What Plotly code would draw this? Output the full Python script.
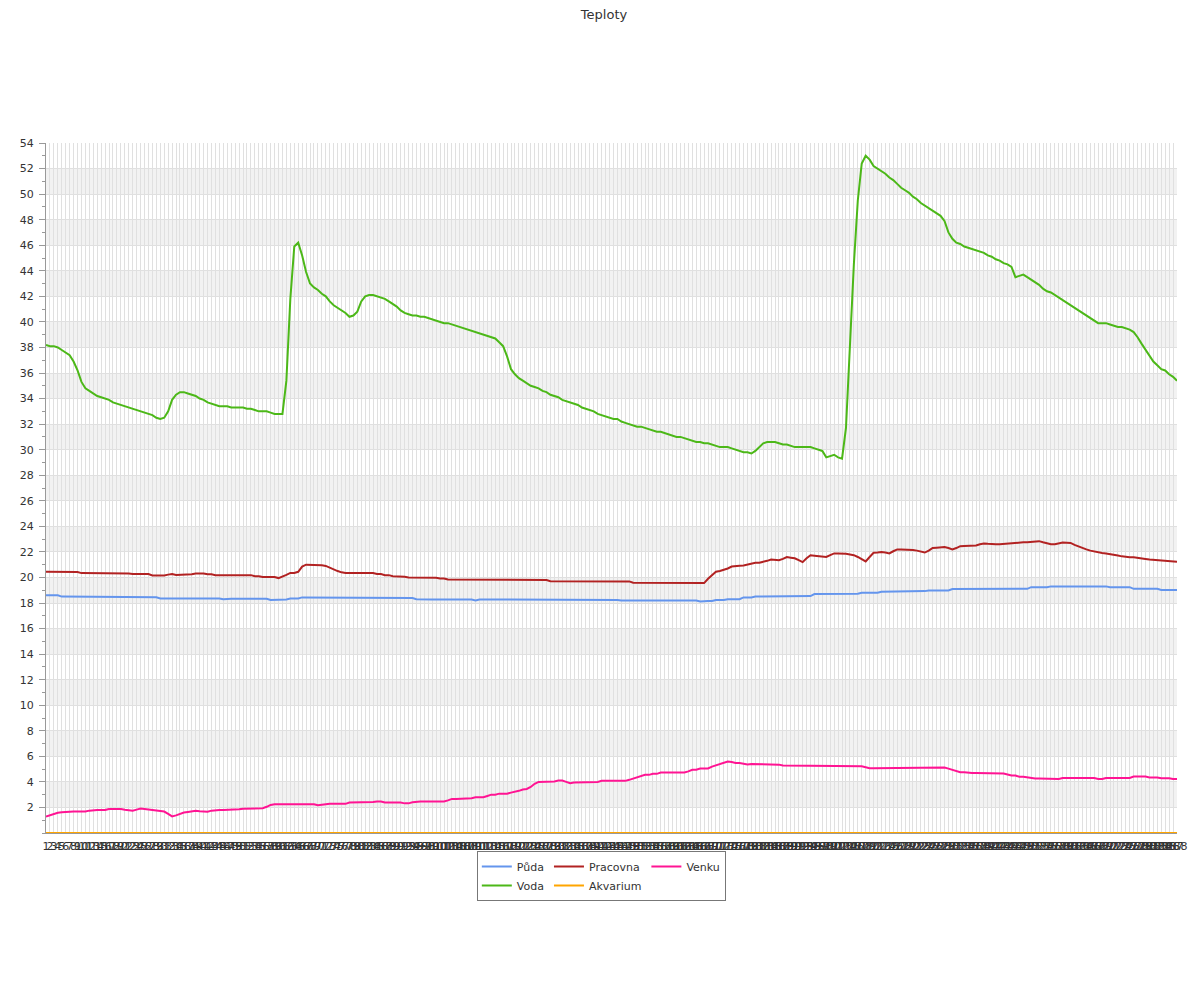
import plotly.graph_objects as go

labels = [str(i) for i in range(1, 289)]

puda = [
    18.6, 18.6, 18.6, 18.6, 18.5, 18.5, 18.5, 18.5, 18.5, 18.5,
    18.5, 18.5, 18.5, 18.45, 18.45, 18.45, 18.45, 18.45, 18.45, 18.45,
    18.45, 18.45, 18.45, 18.45, 18.45, 18.45, 18.45, 18.45, 18.45, 18.36,
    18.36, 18.36, 18.36, 18.36, 18.36, 18.36, 18.36, 18.36, 18.36, 18.36,
    18.36, 18.36, 18.36, 18.36, 18.36, 18.3, 18.33, 18.33, 18.33, 18.33,
    18.33, 18.33, 18.33, 18.33, 18.33, 18.33, 18.33, 18.23, 18.23, 18.23,
    18.28, 18.28, 18.35, 18.35, 18.35, 18.44, 18.44, 18.44, 18.44, 18.44,
    18.44, 18.44, 18.44, 18.44, 18.44, 18.44, 18.44, 18.44, 18.44, 18.44,
    18.44, 18.44, 18.44, 18.39, 18.39, 18.39, 18.39, 18.39, 18.39, 18.39,
    18.39, 18.39, 18.39, 18.39, 18.3, 18.28, 18.28, 18.28, 18.28, 18.28,
    18.28, 18.28, 18.28, 18.28, 18.28, 18.28, 18.28, 18.28, 18.28, 18.2,
    18.28, 18.28, 18.28, 18.28, 18.28, 18.28, 18.28, 18.28, 18.23, 18.23,
    18.23, 18.23, 18.28, 18.28, 18.28, 18.28, 18.28, 18.28, 18.28, 18.28,
    18.28, 18.28, 18.28, 18.28, 18.28, 18.28, 18.28, 18.28, 18.28, 18.28,
    18.28, 18.23, 18.23, 18.23, 18.23, 18.23, 18.2, 18.2, 18.2, 18.2,
    18.2, 18.2, 18.2, 18.2, 18.2, 18.2, 18.2, 18.2, 18.2, 18.2,
    18.2, 18.2, 18.2, 18.2, 18.2, 18.2, 18.12, 18.15, 18.15, 18.15,
    18.23, 18.23, 18.23, 18.3, 18.3, 18.3, 18.3, 18.44, 18.44, 18.44,
    18.5, 18.5, 18.5, 18.5, 18.5, 18.54, 18.54, 18.54, 18.54, 18.54,
    18.54, 18.54, 18.54, 18.54, 18.54, 18.7, 18.7, 18.7, 18.7, 18.7,
    18.72, 18.72, 18.72, 18.72, 18.72, 18.72, 18.72, 18.8, 18.8, 18.8,
    18.8, 18.8, 18.88, 18.88, 18.88, 18.88, 18.88, 18.88, 18.93, 18.93,
    18.93, 18.93, 18.93, 18.93, 18.98, 18.98, 18.98, 18.98, 18.98, 18.98,
    19.09, 19.09, 19.09, 19.09, 19.09, 19.09, 19.09, 19.09, 19.09, 19.09,
    19.11, 19.11, 19.11, 19.11, 19.11, 19.11, 19.11, 19.11, 19.11, 19.11,
    19.24, 19.24, 19.24, 19.24, 19.24, 19.3, 19.3, 19.3, 19.3, 19.3,
    19.3, 19.3, 19.3, 19.3, 19.3, 19.3, 19.3, 19.3, 19.3, 19.3,
    19.24, 19.24, 19.24, 19.24, 19.24, 19.24, 19.11, 19.11, 19.11, 19.11,
    19.11, 19.11, 19.11, 19.02, 19.02, 19.02, 19.02, 19.02,
]

pracovna = [
    20.45, 20.45, 20.45, 20.45, 20.45, 20.42, 20.42, 20.42, 20.42, 20.34,
    20.34, 20.34, 20.34, 20.34, 20.34, 20.34, 20.3, 20.3, 20.3, 20.3,
    20.3, 20.3, 20.27, 20.27, 20.27, 20.27, 20.27, 20.16, 20.16, 20.16,
    20.16, 20.22, 20.26, 20.2, 20.2, 20.2, 20.25, 20.25, 20.31, 20.31,
    20.31, 20.25, 20.25, 20.18, 20.18, 20.18, 20.18, 20.18, 20.18, 20.18,
    20.18, 20.18, 20.18, 20.1, 20.1, 20.03, 20.03, 20.03, 20.03, 19.95,
    20.05, 20.2, 20.35, 20.35, 20.44, 20.85, 21.0, 21.0, 21.0, 21.0,
    20.95, 20.9, 20.75, 20.62, 20.5, 20.4, 20.34, 20.34, 20.34, 20.34,
    20.34, 20.34, 20.34, 20.34, 20.27, 20.27, 20.18, 20.18, 20.1, 20.1,
    20.05, 20.05, 20.0, 20.0, 20.0, 20.0, 20.0, 19.97, 19.97, 19.97,
    19.92, 19.92, 19.84, 19.84, 19.84, 19.84, 19.84, 19.84, 19.84, 19.84,
    19.84, 19.84, 19.82, 19.82, 19.82, 19.82, 19.82, 19.82, 19.8, 19.8,
    19.8, 19.8, 19.8, 19.8, 19.8, 19.8, 19.8, 19.8, 19.71, 19.71,
    19.71, 19.66, 19.66, 19.66, 19.66, 19.68, 19.68, 19.68, 19.68, 19.68,
    19.69, 19.69, 19.69, 19.69, 19.69, 19.69, 19.69, 19.69, 19.69, 19.58,
    19.58, 19.58, 19.58, 19.58, 19.58, 19.58, 19.58, 19.58, 19.58, 19.56,
    19.56, 19.56, 19.56, 19.56, 19.56, 19.56, 19.56, 19.56, 19.9, 20.2,
    20.45, 20.5, 20.57, 20.7, 20.85, 20.9, 20.92, 20.94, 21.0, 21.1,
    21.15, 21.15, 21.2, 21.3, 21.4, 21.4, 21.35, 21.45, 21.6, 21.55,
    21.5, 21.35, 21.2, 21.5, 21.74, 21.7, 21.67, 21.67, 21.6, 21.75,
    21.88, 21.88, 21.88, 21.85, 21.8, 21.74, 21.6, 21.45, 21.25, 21.6,
    21.93, 21.95, 22.0, 21.95, 21.88, 22.05, 22.19, 22.19, 22.19, 22.19,
    22.15, 22.1, 22.0, 21.95, 22.1, 22.31, 22.33, 22.35, 22.38, 22.3,
    22.2, 22.3, 22.45, 22.47, 22.48, 22.5, 22.5, 22.6, 22.66, 22.63,
    22.6, 22.6, 22.6, 22.63, 22.67, 22.7, 22.72, 22.74, 22.75, 22.76,
    22.8, 22.83, 22.84, 22.75, 22.68, 22.6, 22.6, 22.7, 22.74, 22.72,
    22.7, 22.55, 22.42, 22.3, 22.2, 22.1, 22.03, 21.97, 21.92, 21.88,
    21.84, 21.78, 21.72, 21.65, 21.6, 21.59, 21.58, 21.55, 21.5, 21.45,
    21.4, 21.37, 21.33, 21.3, 21.28, 21.26, 21.24, 21.22,
]

venku = [
    1.28, 1.4, 1.5, 1.58, 1.62, 1.65, 1.68, 1.68, 1.68, 1.68,
    1.68, 1.75, 1.8, 1.8, 1.8, 1.8, 1.88, 1.88, 1.88, 1.88,
    1.82, 1.8, 1.75, 1.83, 1.91, 1.88, 1.84, 1.78, 1.73, 1.73,
    1.68, 1.5, 1.3, 1.38, 1.5, 1.6, 1.65, 1.72, 1.75, 1.7,
    1.66, 1.67, 1.75, 1.8, 1.8, 1.8, 1.8, 1.8, 1.8, 1.85,
    1.9, 1.91, 1.9, 1.88, 1.9, 1.94, 2.05, 2.2, 2.25, 2.25,
    2.25, 2.25, 2.25, 2.25, 2.25, 2.25, 2.25, 2.25, 2.25, 2.18,
    2.22, 2.28, 2.28, 2.28, 2.28, 2.28, 2.28, 2.38, 2.38, 2.38,
    2.38, 2.38, 2.42, 2.42, 2.46, 2.46, 2.38, 2.38, 2.38, 2.38,
    2.38, 2.32, 2.32, 2.4, 2.46, 2.46, 2.46, 2.46, 2.46, 2.46,
    2.46, 2.46, 2.55, 2.67, 2.67, 2.67, 2.67, 2.67, 2.72, 2.8,
    2.8, 2.8, 2.9, 3.0, 3.0, 3.08, 3.08, 3.08, 3.16, 3.22,
    3.3, 3.4, 3.45, 3.6, 3.85, 4.0, 4.0, 4.0, 4.0, 4.03,
    4.1, 4.1, 4.0, 3.9, 3.95, 3.95, 3.95, 3.95, 3.95, 4.0,
    4.0, 4.08, 4.08, 4.08, 4.08, 4.08, 4.08, 4.08, 4.16, 4.27,
    4.37, 4.47, 4.55, 4.55, 4.63, 4.63, 4.73, 4.73, 4.73, 4.73,
    4.73, 4.73, 4.73, 4.82, 4.95, 4.95, 5.05, 5.05, 5.05, 5.2,
    5.3, 5.4, 5.5, 5.59, 5.55, 5.48, 5.48, 5.4, 5.36, 5.4,
    5.4, 5.4, 5.4, 5.4, 5.4, 5.35, 5.35, 5.28, 5.28, 5.28,
    5.28, 5.28, 5.28, 5.28, 5.28, 5.28, 5.25, 5.25, 5.25, 5.25,
    5.28, 5.28, 5.28, 5.28, 5.23, 5.23, 5.23, 5.23, 5.15, 5.07,
    5.07, 5.07, 5.07, 5.07, 5.07, 5.07, 5.07, 5.07, 5.07, 5.07,
    5.07, 5.07, 5.07, 5.07, 5.12, 5.12, 5.12, 5.12, 5.12, 5.04,
    4.95, 4.85, 4.76, 4.76, 4.7, 4.7, 4.7, 4.7, 4.7, 4.7,
    4.7, 4.65, 4.65, 4.65, 4.58, 4.5, 4.5, 4.4, 4.4, 4.34,
    4.34, 4.27, 4.27, 4.27, 4.23, 4.23, 4.23, 4.23, 4.31, 4.31,
    4.31, 4.31, 4.31, 4.31, 4.31, 4.31, 4.31, 4.23, 4.23, 4.31,
    4.31, 4.31, 4.31, 4.31, 4.31, 4.31, 4.42, 4.42, 4.42, 4.42,
    4.35, 4.35, 4.35, 4.29, 4.29, 4.29, 4.23, 4.23,
]

voda = [
    38.2, 38.1, 38.1, 38.0, 37.8, 37.6, 37.4, 36.9, 36.2, 35.3,
    34.8, 34.6, 34.4, 34.2, 34.1, 34.0, 33.9, 33.7, 33.6, 33.5,
    33.4, 33.3, 33.2, 33.1, 33.0, 32.9, 32.8, 32.7, 32.5, 32.4,
    32.5, 33.0, 33.9, 34.3, 34.5, 34.5, 34.4, 34.3, 34.2, 34.0,
    33.9, 33.7, 33.6, 33.5, 33.4, 33.4, 33.4, 33.3, 33.3, 33.3,
    33.3, 33.2, 33.2, 33.1, 33.0, 33.0, 33.0, 32.9, 32.8, 32.8,
    32.8, 35.4, 41.8, 45.9, 46.2, 45.2, 43.9, 43.0, 42.7, 42.5,
    42.2, 42.0, 41.6, 41.3, 41.1, 40.9, 40.7, 40.4, 40.5, 40.8,
    41.6, 42.0, 42.1, 42.1, 42.0, 41.9, 41.8, 41.6, 41.4, 41.2,
    40.9, 40.7, 40.6, 40.5, 40.5, 40.4, 40.4, 40.3, 40.2, 40.1,
    40.0, 39.9, 39.9, 39.8, 39.7, 39.6, 39.5, 39.4, 39.3, 39.2,
    39.1, 39.0, 38.9, 38.8, 38.7, 38.4, 38.1, 37.3, 36.3, 35.9,
    35.6, 35.4, 35.2, 35.0, 34.9, 34.8, 34.6, 34.5, 34.3, 34.2,
    34.1, 33.9, 33.8, 33.7, 33.6, 33.5, 33.3, 33.2, 33.1, 33.0,
    32.8, 32.7, 32.6, 32.5, 32.4, 32.4, 32.2, 32.1, 32.0, 31.9,
    31.8, 31.8, 31.7, 31.6, 31.5, 31.4, 31.4, 31.3, 31.2, 31.1,
    31.0, 31.0, 30.9, 30.8, 30.7, 30.6, 30.6, 30.5, 30.5, 30.4,
    30.3, 30.2, 30.2, 30.2, 30.1, 30.0, 29.9, 29.8, 29.8, 29.7,
    29.9, 30.2, 30.5, 30.6, 30.6, 30.6, 30.5, 30.4, 30.4, 30.3,
    30.2, 30.2, 30.2, 30.2, 30.2, 30.1, 30.0, 29.9, 29.4, 29.5,
    29.6, 29.4, 29.3, 31.7, 38.0, 44.5, 49.5, 52.4, 53.0, 52.7,
    52.2, 52.0, 51.8, 51.6, 51.3, 51.1, 50.8, 50.5, 50.3, 50.1,
    49.8, 49.6, 49.3, 49.1, 48.9, 48.7, 48.5, 48.3, 47.9, 47.0,
    46.5, 46.2, 46.1, 45.9, 45.8, 45.7, 45.6, 45.5, 45.4, 45.2,
    45.1, 44.9, 44.8, 44.6, 44.5, 44.3, 43.5, 43.6, 43.7, 43.5,
    43.3, 43.1, 42.9, 42.6, 42.4, 42.3, 42.1, 41.9, 41.7, 41.5,
    41.3, 41.1, 40.9, 40.7, 40.5, 40.3, 40.1, 39.9, 39.9, 39.9,
    39.8, 39.7, 39.6, 39.6, 39.5, 39.4, 39.2, 38.8, 38.3, 37.8,
    37.3, 36.9, 36.6, 36.3, 36.2, 35.9, 35.7, 35.4,
]

akvarium = [
    0, 0, 0, 0, 0, 0, 0, 0, 0, 0, 0, 0, 0, 0, 0, 0, 0, 0, 0, 0, 0, 0, 0, 0,
    0, 0, 0, 0, 0, 0, 0, 0, 0, 0, 0, 0, 0, 0, 0, 0, 0, 0, 0, 0, 0, 0, 0, 0,
    0, 0, 0, 0, 0, 0, 0, 0, 0, 0, 0, 0, 0, 0, 0, 0, 0, 0, 0, 0, 0, 0, 0, 0,
    0, 0, 0, 0, 0, 0, 0, 0, 0, 0, 0, 0, 0, 0, 0, 0, 0, 0, 0, 0, 0, 0, 0, 0,
    0, 0, 0, 0, 0, 0, 0, 0, 0, 0, 0, 0, 0, 0, 0, 0, 0, 0, 0, 0, 0, 0, 0, 0,
    0, 0, 0, 0, 0, 0, 0, 0, 0, 0, 0, 0, 0, 0, 0, 0, 0, 0, 0, 0, 0, 0, 0, 0,
    0, 0, 0, 0, 0, 0, 0, 0, 0, 0, 0, 0, 0, 0, 0, 0, 0, 0, 0, 0, 0, 0, 0, 0,
    0, 0, 0, 0, 0, 0, 0, 0, 0, 0, 0, 0, 0, 0, 0, 0, 0, 0, 0, 0, 0, 0, 0, 0,
    0, 0, 0, 0, 0, 0, 0, 0, 0, 0, 0, 0, 0, 0, 0, 0, 0, 0, 0, 0, 0, 0, 0, 0,
    0, 0, 0, 0, 0, 0, 0, 0, 0, 0, 0, 0, 0, 0, 0, 0, 0, 0, 0, 0, 0, 0, 0, 0,
    0, 0, 0, 0, 0, 0, 0, 0, 0, 0, 0, 0, 0, 0, 0, 0, 0, 0, 0, 0, 0, 0, 0, 0,
    0, 0, 0, 0, 0, 0, 0, 0, 0, 0, 0, 0, 0, 0, 0, 0, 0, 0, 0, 0, 0, 0, 0, 0,
]

for nm, s in [("puda", puda), ("pracovna", pracovna), ("venku", venku),
              ("voda", voda), ("akvarium", akvarium)]:
    assert len(s) == 288, (nm, len(s))

series = [
    ("Půda", puda, "#6495ED", "g1"),
    ("Pracovna", pracovna, "#B22222", "g2"),
    ("Venku", venku, "#FF1493", "g3"),
    ("Voda", voda, "#4CB818", "g1"),
    ("Akvarium", akvarium, "#FFA500", "g2"),
]

FONT = "DejaVu Sans"
fig = go.Figure()
for name, vals, color, grp in series:
    fig.add_trace(go.Scatter(
        x=labels, y=vals, name=name, mode="lines",
        line=dict(color=color, width=2),
        legendgroup=grp,
    ))

shapes = []
for lo in range(2, 54, 4):
    shapes.append(dict(type="rect", xref="paper", yref="y", x0=0, x1=1,
                       y0=lo, y1=lo + 2, fillcolor="#F2F2F2",
                       line=dict(width=0), layer="below"))

fig.update_layout(
    width=1192, height=992,
    margin=dict(l=32, r=20, t=135, b=167, pad=0),
    paper_bgcolor="white", plot_bgcolor="white",
    font=dict(family=FONT, size=11, color="#333333"),
    title=dict(text="Teploty", x=0.5, xanchor="center", y=0.998,
               yanchor="top", pad=dict(t=0, b=0),
               font=dict(size=13, color="#333333")),
    shapes=shapes,
    showlegend=True,
    legend=dict(orientation="h", x=0.491, xanchor="center", y=-0.026,
                yanchor="top", traceorder="grouped", tracegroupgap=0,
                bordercolor="#777777", borderwidth=1, itemwidth=30,
                font=dict(size=11, color="#333333"), bgcolor="white"),
    xaxis=dict(type="category", range=[0, 287], tickmode="linear", dtick=1,
               tickangle=0, showgrid=True, gridcolor="#E0E0E0", gridwidth=1,
               showline=True, linecolor="#999999", ticks="",
               ticklabelstandoff=3,
               tickfont=dict(size=11, color="#333333"), zeroline=False),
    yaxis=dict(range=[0, 54], tickmode="array",
               tickvals=list(range(2, 55, 2)), showgrid=True,
               gridcolor="#E0E0E0", gridwidth=1, showline=True,
               linecolor="#999999", ticks="outside", ticklen=6,
               tickcolor="#999999", ticklabelstandoff=3,
               minor=dict(dtick=1, ticks="outside", ticklen=3,
                          tickcolor="#999999", showgrid=False),
               tickfont=dict(size=11, color="#333333"), zeroline=False),
)

fig.write_html("out.html")
